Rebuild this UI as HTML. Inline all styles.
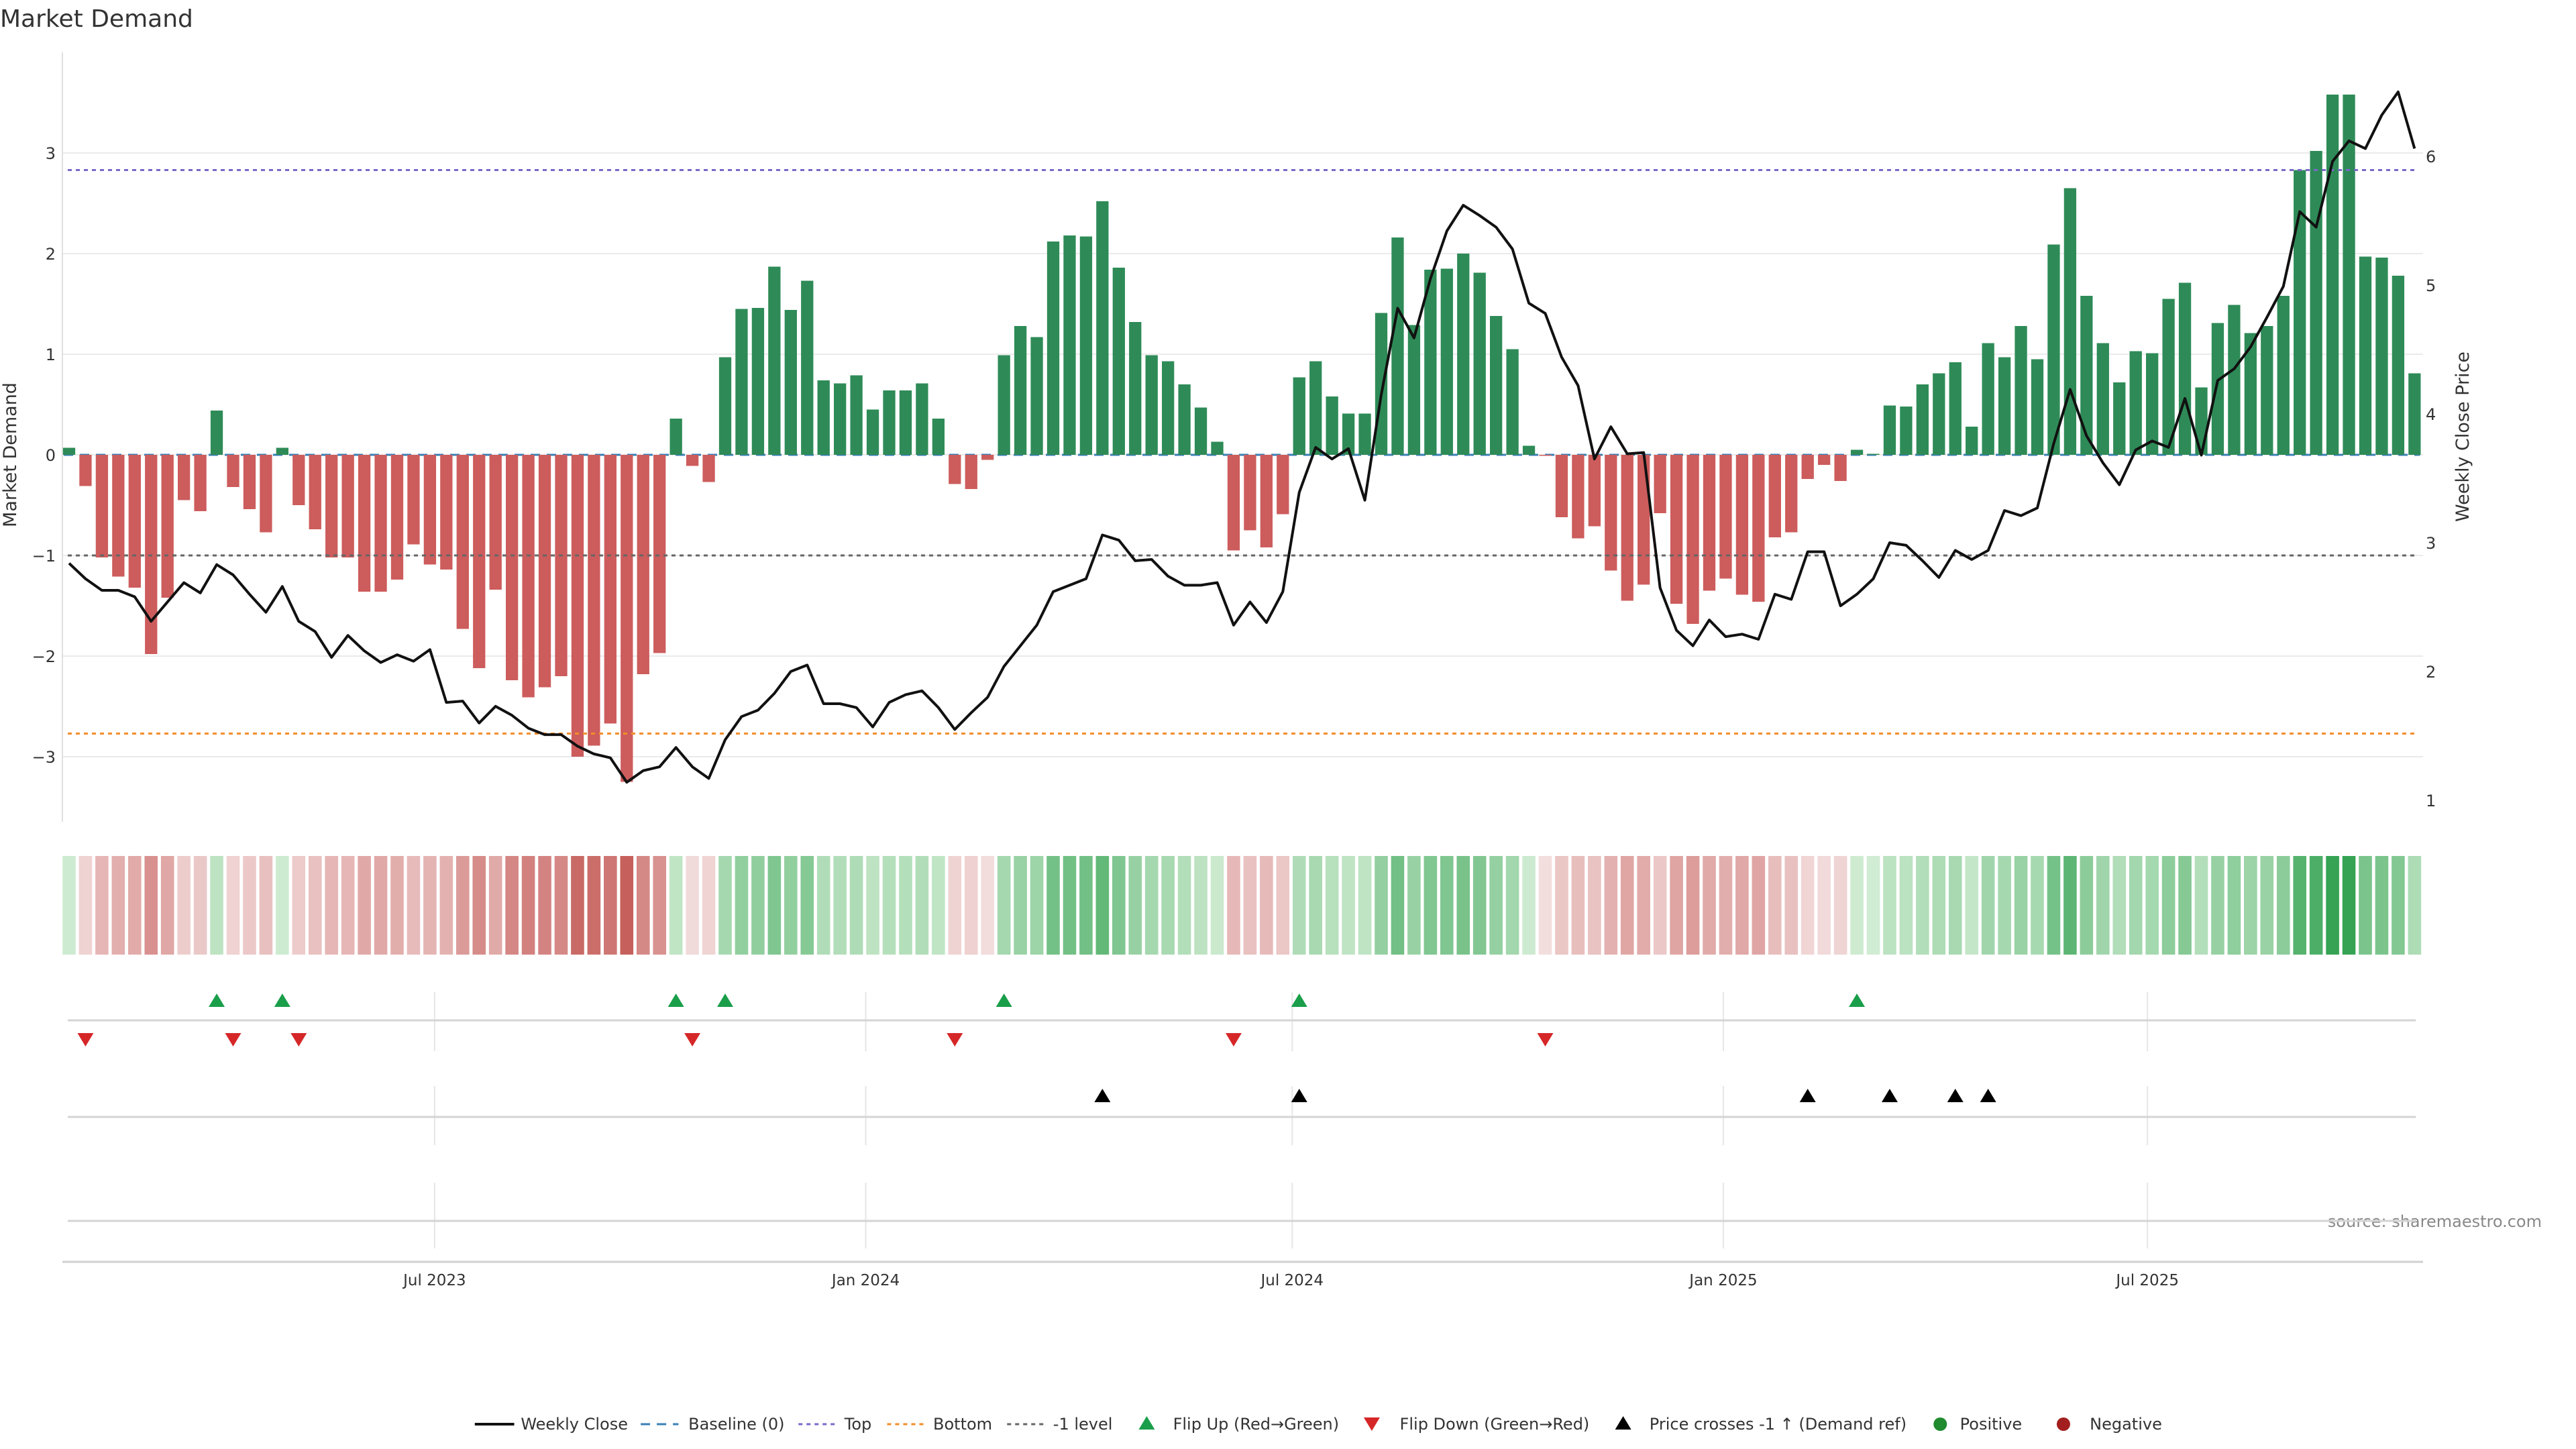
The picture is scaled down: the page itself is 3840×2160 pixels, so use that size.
<!DOCTYPE html>
<html><head><meta charset="utf-8"><style>
html,body{margin:0;padding:0;background:#fff;}
svg{display:block;font-family:"DejaVu Sans","Liberation Sans",sans-serif;}
</style></head><body>
<svg id="chart" width="3840" height="2160" viewBox="0 0 3840 2160" xmlns="http://www.w3.org/2000/svg">
<text x="0" y="40" font-size="36" fill="#333">Market Demand</text>
<text transform="translate(24,678) rotate(-90)" text-anchor="middle" font-size="27" fill="#333">Market Demand</text>
<text transform="translate(3680,651) rotate(-90)" text-anchor="middle" font-size="27" fill="#333">Weekly Close Price</text>
<text x="3789" y="1829" text-anchor="end" font-size="24" fill="#888">source: sharemaestro.com</text>
<g id="g"></g>
</svg>
<script>
const demand=[0.07,-0.31,-1.02,-1.21,-1.32,-1.98,-1.42,-0.45,-0.56,0.44,-0.32,-0.54,-0.77,0.07,-0.5,-0.74,-1.02,-1.02,-1.36,-1.36,-1.24,-0.89,-1.09,-1.14,-1.73,-2.12,-1.34,-2.24,-2.41,-2.31,-2.2,-3.0,-2.89,-2.67,-3.25,-2.18,-1.97,0.36,-0.11,-0.27,0.97,1.45,1.46,1.87,1.44,1.73,0.74,0.71,0.79,0.45,0.64,0.64,0.71,0.36,-0.29,-0.34,-0.05,0.99,1.28,1.17,2.12,2.18,2.17,2.52,1.86,1.32,0.99,0.93,0.7,0.47,0.13,-0.95,-0.75,-0.92,-0.59,0.77,0.93,0.58,0.41,0.41,1.41,2.16,1.29,1.84,1.85,2.0,1.81,1.38,1.05,0.09,-0.01,-0.62,-0.83,-0.71,-1.15,-1.45,-1.29,-0.58,-1.48,-1.68,-1.35,-1.23,-1.39,-1.46,-0.82,-0.77,-0.24,-0.10,-0.26,0.05,0.01,0.49,0.48,0.70,0.81,0.92,0.28,1.11,0.97,1.28,0.95,2.09,2.65,1.58,1.11,0.72,1.03,1.01,1.55,1.71,0.67,1.31,1.49,1.21,1.28,1.58,2.83,3.02,3.58,3.58,1.97,1.96,1.78,0.81];
const price=[2.84,2.72,2.63,2.63,2.58,2.39,2.54,2.69,2.61,2.83,2.75,2.60,2.46,2.66,2.39,2.31,2.11,2.28,2.16,2.07,2.13,2.08,2.17,1.76,1.77,1.60,1.73,1.66,1.56,1.51,1.51,1.42,1.36,1.33,1.14,1.23,1.26,1.41,1.26,1.17,1.47,1.65,1.70,1.83,2.00,2.05,1.75,1.75,1.72,1.57,1.76,1.82,1.85,1.72,1.55,1.68,1.80,2.04,2.20,2.36,2.62,2.67,2.72,3.06,3.02,2.86,2.87,2.74,2.67,2.67,2.69,2.36,2.54,2.38,2.62,3.39,3.74,3.65,3.73,3.33,4.15,4.82,4.59,5.05,5.42,5.62,5.54,5.45,5.28,4.86,4.78,4.44,4.22,3.65,3.90,3.69,3.70,2.65,2.32,2.20,2.40,2.27,2.29,2.25,2.60,2.56,2.93,2.93,2.51,2.60,2.72,3.00,2.98,2.86,2.73,2.94,2.87,2.94,3.25,3.21,3.27,3.77,4.19,3.83,3.62,3.45,3.72,3.79,3.74,4.12,3.68,4.26,4.35,4.52,4.75,4.99,5.57,5.45,5.96,6.12,6.06,6.32,6.50,6.06];
const levels=[2.83,-2.77,-1];
const leftTicks=[-3,-2,-1,0,1,2,3];
const rightTicks=[1,2,3,4,5,6];
const tickDates=["2023-07-01","2024-01-01","2024-07-01","2025-01-01","2025-07-01"];
const tickLabels=["Jul 2023","Jan 2024","Jul 2024","Jan 2025","Jul 2025"];
const startDate="2023-01-26";
const priceRef=2.9;

const NS="http://www.w3.org/2000/svg";
const g=document.getElementById('g');
function el(t,a,txt){const e=document.createElementNS(NS,t);for(const k in a)e.setAttribute(k,a[k]);if(txt!==undefined)e.textContent=txt;g.appendChild(e);return e;}
const X0=103,PITCH=24.45;
const xi=i=>X0+i*PITCH;
const xd=d=>X0+(new Date(d)-new Date(startDate))/864e5/7*PITCH;
const yL=v=>678-v*150;
const yR=p=>1193-(p-1)*192;
const L=93,R=3612;

leftTicks.forEach(v=>{const l=el('line',{x1:L,x2:R,y1:yL(v),y2:yL(v),stroke:'#ebebeb','stroke-width':2});

const t=el('text',{x:83,y:yL(v)+9,'text-anchor':'end','font-size':24,fill:'#333'},v===0?'0':(v<0?'\u2212'+(-v):''+v));
});
rightTicks.forEach(p=>{const t=el('text',{x:3616,y:yR(p)+9,'font-size':24,fill:'#333'},''+p);
});
const sp=el('line',{x1:L,x2:L,y1:78,y2:1225,stroke:'#e0e0e0','stroke-width':2});


const bl=el('line',{x1:X0-8,x2:xi(demand.length-1)+8,y1:yL(0),y2:yL(0),stroke:'#3a7fb5','stroke-width':3,'stroke-dasharray':'14 10'});


const BW=18.3;
demand.forEach((v,i)=>{const y0=yL(0),y1=yL(v);
const r=el('rect',{x:xi(i)-BW/2,y:Math.min(y0,y1),width:BW,height:Math.max(Math.abs(y1-y0),0.5),fill:v>=0?'#2e8b57':'#cd5c5c'});
});

const lvCol=['#7b68c8','#f28e2b','#666'];const lvName=['top-level-line','bottom-level-line','minus-one-level-line'];
levels.forEach((v,k)=>{const l=el('line',{x1:X0-2,x2:xi(demand.length-1)+2,y1:yL(v),y2:yL(v),stroke:lvCol[k],'stroke-width':3,'stroke-dasharray':'6 6'});
});

const pl=el('polyline',{points:price.map((p,i)=>xi(i)+','+yR(p)).join(' '),fill:'none',stroke:'#111','stroke-width':4,'stroke-linejoin':'round'});


function mix(a,b,t){return 'rgb('+a.map((c,j)=>Math.round(c+(b[j]-c)*t)).join(',')+')';}
demand.forEach((v,i)=>{const c=v>=0?mix([208,236,210],[52,163,82],Math.min(v/3.6,1)):mix([243,222,222],[198,96,92],Math.min(-v/3.25,1));
const r=el('rect',{x:xi(i)-9.8,y:1276,width:19.6,height:147,fill:c});
});

const rows=[[1479,1567,1521],[1619,1707,1665],[1763,1861,1820]];
rows.forEach((rw,k)=>{tickDates.forEach(d=>{const l=el('line',{x1:xd(d),x2:xd(d),y1:rw[0],y2:rw[1],stroke:'#e6e6e6','stroke-width':2});
});
const b=el('line',{x1:X0-2,x2:xi(demand.length-1)+2,y1:rw[2],y2:rw[2],stroke:'#d4d4d4','stroke-width':3});
});
function tri(x,y,up,col){const h=10;const pts=up?[[x-12,y+h],[x+12,y+h],[x,y-h]]:[[x-12,y-h],[x+12,y-h],[x,y+h]];
return el('polygon',{points:pts.map(p=>p.join(',')).join(' '),fill:col});}
for(let i=1;i<demand.length;i++){
 if(demand[i-1]<0&&demand[i]>=0){const t=tri(xi(i),1491,true,'#1a9e4a');}
 if(demand[i-1]>=0&&demand[i]<0){const t=tri(xi(i),1550,false,'#d62728');}
 if(price[i-1]<priceRef&&price[i]>=priceRef){const t=tri(xi(i),1633,true,'#000');}
}

const xa=el('line',{x1:L,x2:R,y1:1881,y2:1881,stroke:'#d0d0d0','stroke-width':3});

tickDates.forEach((d,k)=>{const t=el('text',{x:xd(d),y:1916,'text-anchor':'middle','font-size':23,fill:'#333'},tickLabels[k]);
});

const LY=2123,S=2.449;
function lt(x,txt){const t=el('text',{x:x*S,y:LY+8,'font-size':24,fill:'#333'},txt);}
function ll(x1,x2,col,dash,w){const l=el('line',{x1:x1*S,x2:x2*S,y1:LY,y2:LY,stroke:col,'stroke-width':w,'stroke-dasharray':dash});}
ll(289,313,'#111','none',4);lt(317,'Weekly Close');
ll(390,413,'#3a7fb5','14 10',3);lt(419,'Baseline (0)');
ll(486,509,'#7b68c8','6 6',3);lt(514,'Top');
ll(540,563,'#f28e2b','6 6',3);lt(568,'Bottom');
ll(613,636,'#666','6 6',3);lt(641,'-1 level');
let t1=tri(698*S,LY-2,true,'#1a9e4a');lt(714,'Flip Up (Red\u2192Green)');
let t2=tri(835*S,LY,false,'#d62728');lt(852,'Flip Down (Green\u2192Red)');
let t3=tri(988*S,LY-2,true,'#000');lt(1004,'Price crosses -1 \u2191 (Demand ref)');
let c1=el('circle',{cx:1181*S,cy:LY,r:10,fill:'#1f8a2e'});lt(1193,'Positive');
let c2=el('circle',{cx:1256*S,cy:LY,r:10,fill:'#a31f1f'});lt(1272,'Negative');
</script>
</body></html>
